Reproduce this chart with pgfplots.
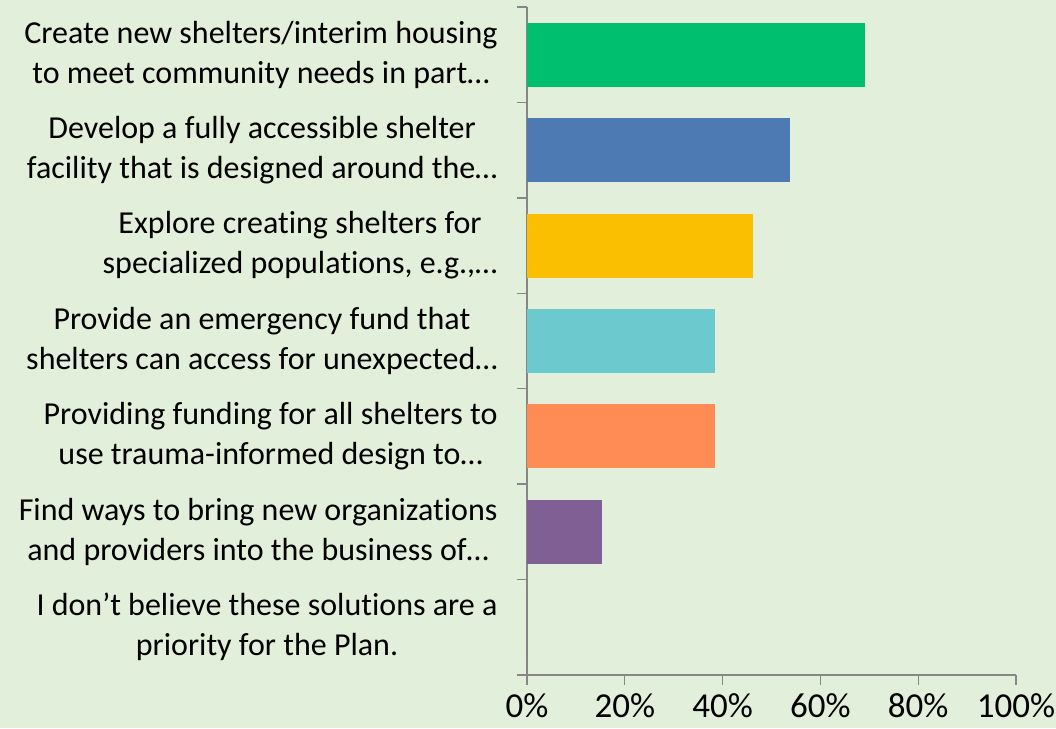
\documentclass[border=0pt]{standalone}
\usepackage{pgfplots}
\pgfplotsset{compat=1.18}
\usepackage{fontspec}
\setmainfont{Carlito}[Ligatures=CommonOff]
\definecolor{bg}{HTML}{E2EFDA}
\definecolor{axgray}{HTML}{868686}
\definecolor{cgreen}{HTML}{00BF6F}
\definecolor{cblue}{HTML}{4E7AB3}
\definecolor{cyellow}{HTML}{F9BF00}
\definecolor{ccyan}{HTML}{6CC9CE}
\definecolor{corange}{HTML}{FF8C55}
\definecolor{cpurple}{HTML}{7F5F94}
\begin{document}
\begin{tikzpicture}
\fill[bg] (0,0) rectangle (1056pt,728pt);
\useasboundingbox (0,0) rectangle (1056pt,728pt);
\begin{axis}[
  at={(527pt,53pt)}, anchor=south west,
  scale only axis, width=489pt, height=668pt,
  xbar, bar width=0.67, bar shift=0pt,
  xmin=0, xmax=100, ymin=-0.5, ymax=6.5,
  axis x line=bottom, axis y line=left,
  axis line style={-, axgray, line width=1.3pt},
  tick align=outside,
  major tick length=10pt,
  every tick/.style={axgray, line width=1.3pt},
  xtick={0,20,40,60,80,100},
  xticklabels={0\%,20\%,40\%,60\%,80\%,100\%},
  xticklabel style={font=\fontsize{35}{40}\selectfont, yshift=-5pt},
  ytick={-0.5,0.5,1.5,2.5,3.5,4.5,5.5,6.5},
  yticklabels={},
  extra y ticks={0,1,2,3,4,5,6},
  extra y tick style={tick style={draw=none}},
  extra y tick labels={
    {I don’t believe these solutions are a\\priority for the Plan.},
    {Find ways to bring new organizations\\and providers into the business of…},
    {Providing funding for all shelters to\\use trauma-informed design to…},
    {Provide an emergency fund that\\shelters can access for unexpected…},
    {Explore creating shelters for\\specialized populations, e.g.,…},
    {Develop a fully accessible shelter\\facility that is designed around the…},
    {Create new shelters/interim housing\\to meet community needs in part…}},
  yticklabel style={font=\fontsize{32}{40}\selectfont, align=center, xshift=-16pt},
  clip=false,
]
\addplot[draw=none, fill=cgreen] coordinates {(69.2,6)};
\addplot[draw=none, fill=cblue] coordinates {(53.8,5)};
\addplot[draw=none, fill=cyellow] coordinates {(46.2,4)};
\addplot[draw=none, fill=ccyan] coordinates {(38.5,3)};
\addplot[draw=none, fill=corange] coordinates {(38.5,2)};
\addplot[draw=none, fill=cpurple] coordinates {(15.4,1)};
\addplot[draw=none, fill=cpurple] coordinates {(0,0)};
\end{axis}
\end{tikzpicture}
\end{document}
